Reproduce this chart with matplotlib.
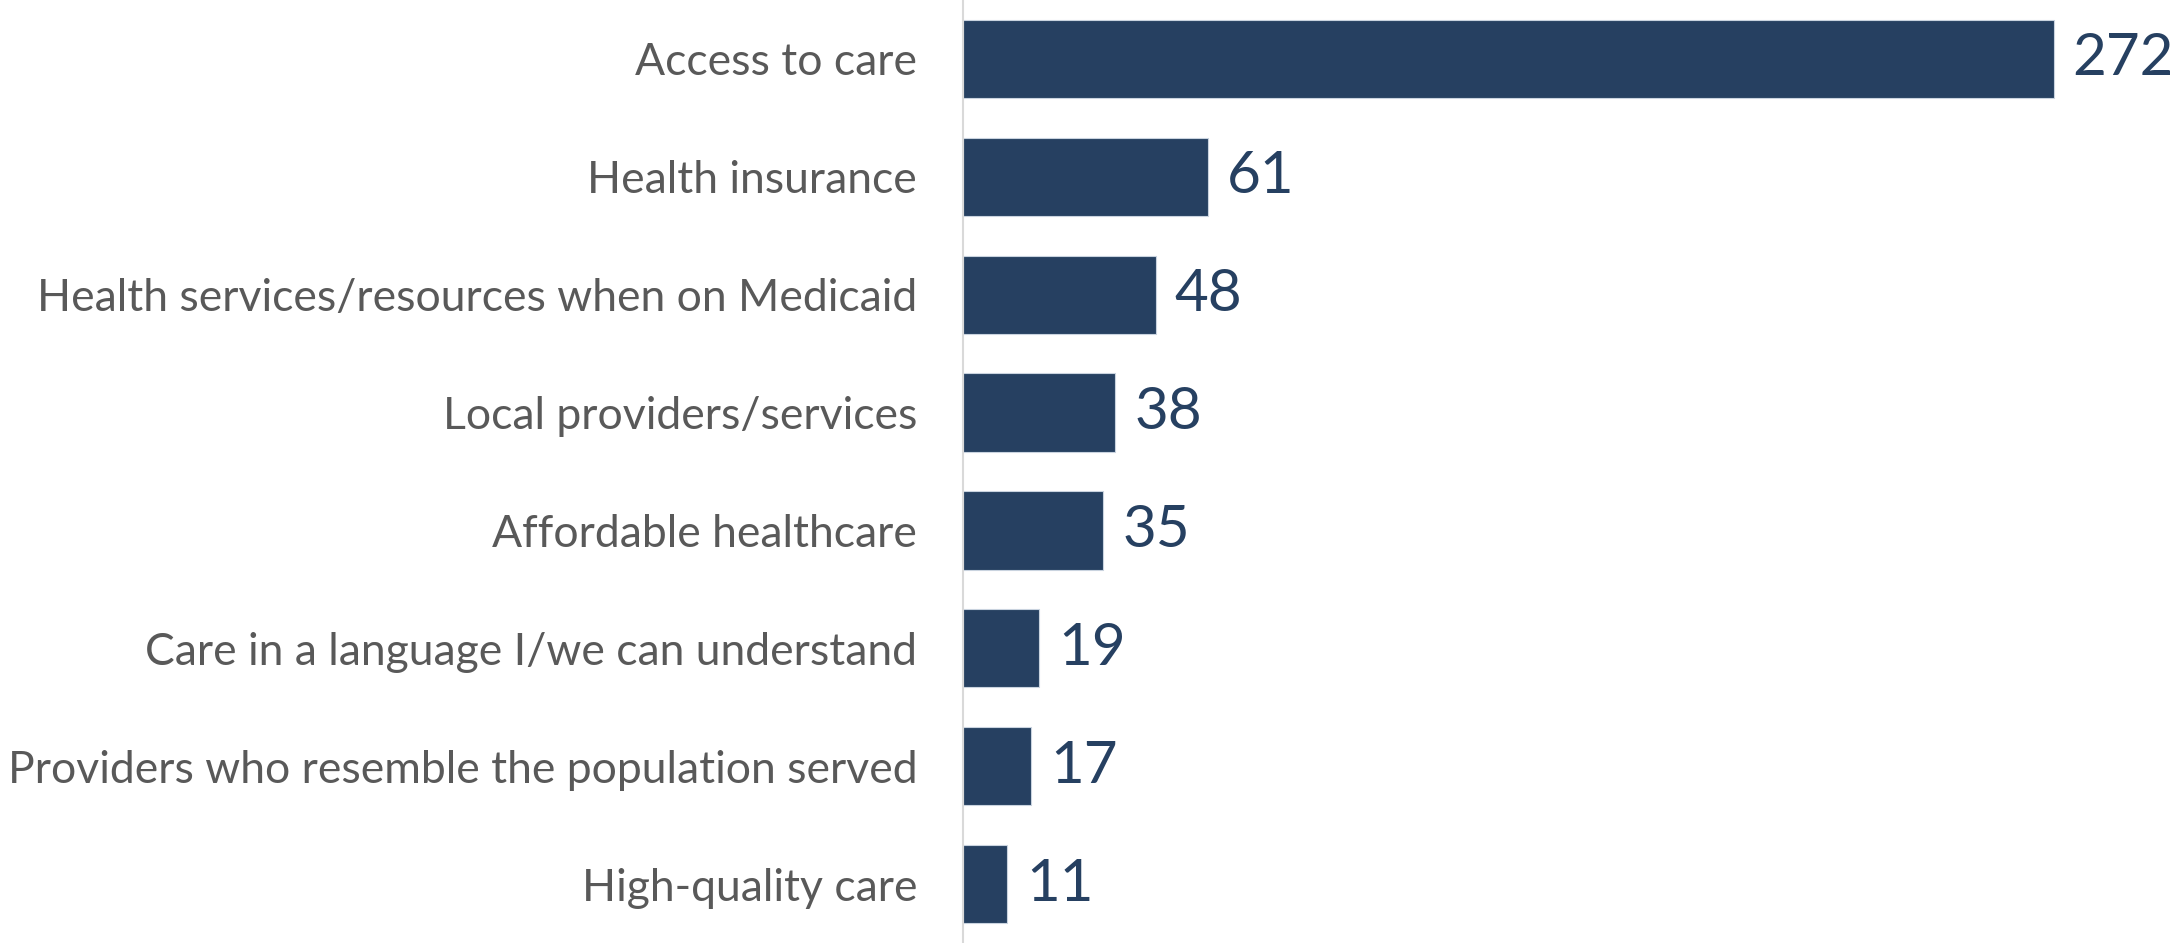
import matplotlib.pyplot as plt

# Data
categories = [
    "Access to care",
    "Health insurance",
    "Health services/resources when on Medicaid",
    "Local providers/services",
    "Affordable healthcare",
    "Care in a language I/we can understand",
    "Providers who resemble the population served",
    "High-quality care",
]
counts = [272, 61, 48, 38, 35, 19, 17, 11]

bar_color = "#264061"
label_color = "#595959"

plt.rcParams['font.family'] = ['Lato', 'DejaVu Sans']

fig = plt.figure(figsize=(21.7, 9.43), dpi=100)
ax = fig.add_axes([0.4438, 0.0, 0.5562, 1.0])

y = list(range(len(categories)))
bars = ax.barh(y, counts, height=0.664, color=bar_color,
               edgecolor="#c9d3df", linewidth=0.8)

ax.set_ylim(len(categories) - 0.5, -0.5)
ax.set_xlim(0, 301)

ax.set_yticks(y)
ax.set_yticklabels(categories, fontsize=32, color=label_color)
ax.tick_params(axis='y', length=0, pad=33)
ax.set_xticks([])

for s in ['top', 'right', 'bottom']:
    ax.spines[s].set_visible(False)
ax.spines['left'].set_color("#d9d9d9")
ax.spines['left'].set_linewidth(1.5)

# value labels at the bar ends
for yi, v in zip(y, counts):
    ax.annotate(str(v), xy=(v, yi), xytext=(13.5, 0),
                textcoords='offset points', va='center', ha='left',
                fontsize=42, color=bar_color, annotation_clip=False)

fig.savefig("out.png", dpi=100)
